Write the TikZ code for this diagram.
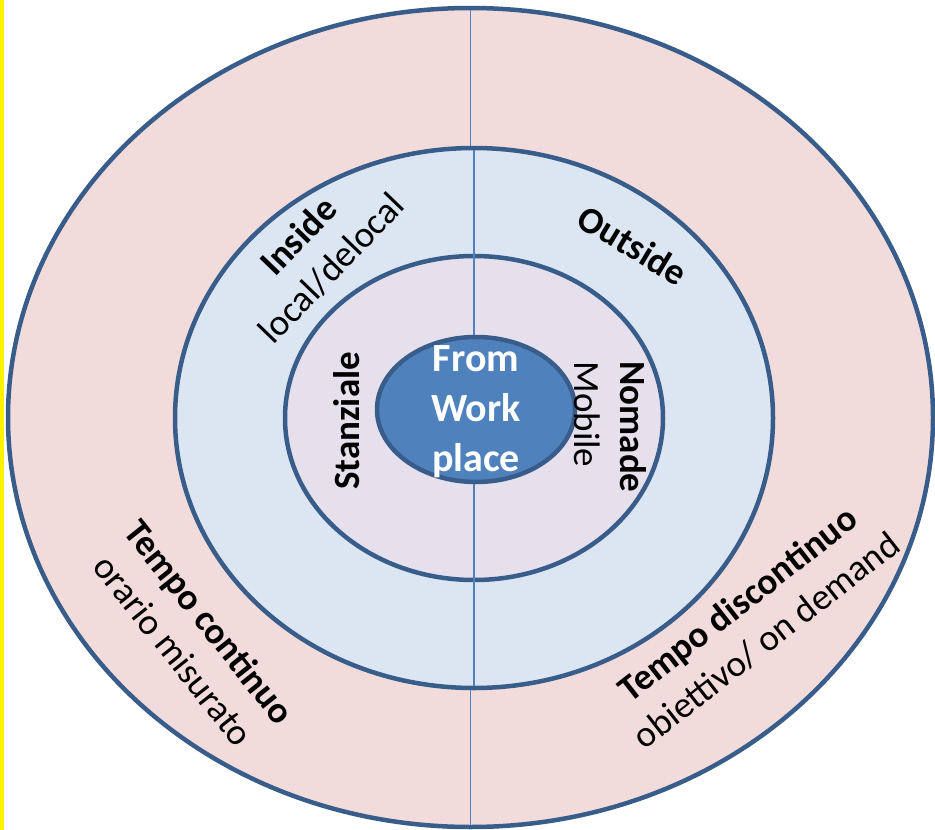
\documentclass[tikz,border=0pt]{standalone}
\usepackage{fontspec}
\setmainfont{Carlito}
\usetikzlibrary{shapes.geometric}
\definecolor{ringline}{HTML}{385D8A}
\definecolor{splitline}{HTML}{4F81BD}
\definecolor{pinkband}{HTML}{F2DCDB}
\definecolor{blueband}{HTML}{DCE6F2}
\definecolor{lilacband}{HTML}{E6E0EC}
\definecolor{coreblue}{HTML}{4F81BD}

\begin{document}
\begin{tikzpicture}[x=1pt,y=-1pt,
    ring/.style={ellipse,draw=ringline,line width=4.5pt,inner sep=0pt},
    lbl/.style={font=\fontsize{37}{46}\selectfont,inner sep=0pt,align=center}]
            \useasboundingbox (0,0) rectangle (935,830);
            \fill[yellow] (0,0) rectangle (4,830);
            \node[ring,fill=pinkband,minimum width=925pt,minimum height=819pt] (outer) at (470.5,417.5) {};
            \draw[splitline,line width=1.5pt,shorten <=4pt,shorten >=4pt] (outer.north)--(outer.south);
            \node[ring,fill=blueband,minimum width=598pt,minimum height=540pt] (middle) at (474,418) {};
            \node[ring,fill=lilacband,minimum width=378pt,minimum height=324pt] (inner) at (474,418) {};
            \draw[splitline,line width=1.5pt,shorten <=4pt,shorten >=4pt] (middle.north)--(middle.south);
            \node[ring,fill=coreblue,minimum width=198pt,minimum height=145pt] (core) at (476,409.5) {};
            \node[lbl,text=white,font=\fontsize{40}{50}\selectfont\bfseries] (wp) at (476,412) {From\\Work\\place};
            \node[lbl,rotate=90] (stanz) at (347,421) {\textbf{Stanziale}};
            \node[lbl,rotate=-90,align=left] (nomade) at (610,427) {\textbf{Nomade}\\Mobile};
            \node[lbl,rotate=46] (inside) at (315,252) {\textbf{Inside}\\local/delocal};
            \node[lbl,rotate=-31] (outside) at (633,245) {\textbf{Outside}};
            \node[lbl,rotate=-51.5] (tcont) at (192,636) {\textbf{Tempo continuo}\\orario misurato};
            \node[lbl,rotate=38] (tdisc) at (752,622) {\textbf{Tempo discontinuo}\\obiettivo/ on demand};
        \end{tikzpicture}
\end{document}
